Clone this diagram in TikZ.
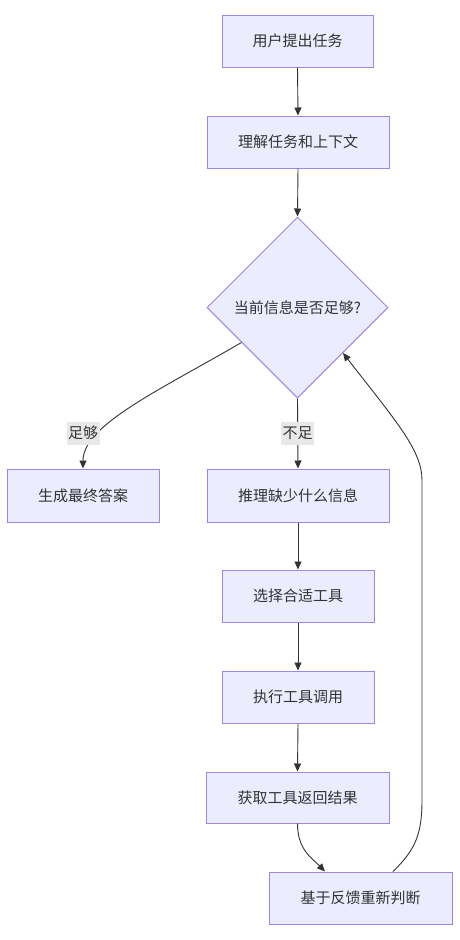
\documentclass[tikz,border=0pt]{standalone}
\usepackage{fontspec}
\setmainfont{Noto Sans CJK SC}
\usetikzlibrary{shapes.geometric,arrows.meta}
\definecolor{boxfill}{HTML}{ECECFF}
\definecolor{boxline}{HTML}{9F86E0}
\definecolor{edgec}{HTML}{333333}
\definecolor{lblbg}{HTML}{E8E8E8}
\tikzset{
  box/.style={draw=boxline, fill=boxfill, line width=1pt, rectangle, inner sep=0pt, text=edgec, font=\fontsize{15}{18}\selectfont},
  dec/.style={draw=boxline, fill=boxfill, line width=1pt, diamond, inner sep=0pt, minimum width=181pt, minimum height=181pt, text=edgec, font=\fontsize{15}{18}\selectfont},
  edge/.style={draw=edgec, line width=0.9pt, -{Triangle[length=8pt,width=7pt]}},
  lbl/.style={fill=lblbg, text=edgec, inner sep=1.5pt, minimum height=23pt, font=\fontsize{15}{18}\selectfont},
}
\begin{document}
\begin{tikzpicture}[x=1pt,y=-1pt]
\useasboundingbox (0,0) rectangle (459,940);
\node[box, minimum width=151pt, minimum height=52pt] (n1) at (297.5,41) {用户提出任务};
\node[box, minimum width=182pt, minimum height=52pt] (n2) at (298,142) {理解任务和上下文};
\node[dec] (d) at (297.5,307.5) {当前信息是否足够?};
\node[box, minimum width=152pt, minimum height=53pt] (n3) at (83,495.5) {生成最终答案};
\node[box, minimum width=182pt, minimum height=53pt] (n4) at (298,495.5) {推理缺少什么信息};
\node[box, minimum width=152pt, minimum height=52pt] (n5) at (298,596) {选择合适工具};
\node[box, minimum width=152pt, minimum height=52pt] (n6) at (298,697) {执行工具调用};
\node[box, minimum width=183pt, minimum height=51pt] (n7) at (297.5,797.5) {获取工具返回结果};
\node[box, minimum width=183pt, minimum height=52pt] (n8) at (360.5,898) {基于反馈重新判断};

\draw[edge] (n1.south) -- (n2.north);
\draw[edge] (n2.south) -- (d.north);
\draw[edge] (d.212) .. controls (160,390) and (83,425) .. (n3.north);
\draw[edge] (d.south) -- (n4.north);
\draw[edge] (n4.south) -- (n5.north);
\draw[edge] (n5.south) -- (n6.north);
\draw[edge] (n6.south) -- (n7.north);
\draw[edge] (n7.south) .. controls (297.5,850) and (312,858) .. ([xshift=-35.5pt]n8.north);
\draw[edge] ([xshift=32.5pt]n8.north) .. controls (415,850) and (422,835) .. (422,800) -- (422,480) .. controls (422,450) and (395,420) .. (d.south east);

\node[lbl] (l1) at (83,433) {足够};
\node[lbl] (l2) at (297.5,433) {不足};
\end{tikzpicture}
\end{document}
